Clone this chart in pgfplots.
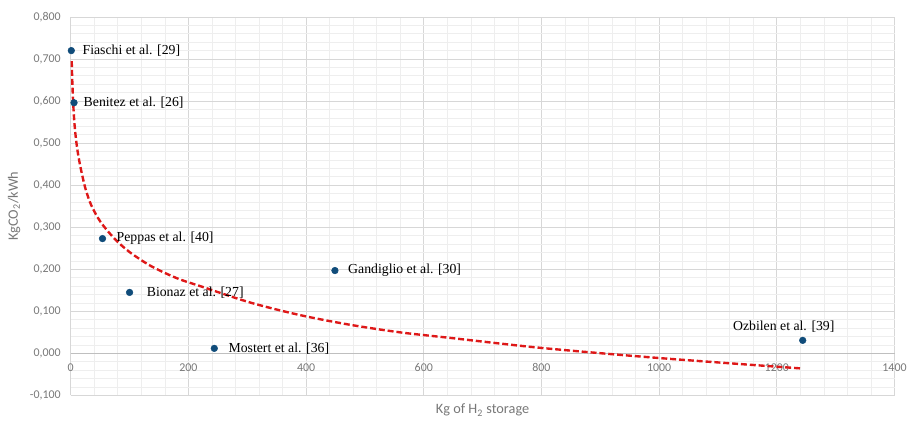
\documentclass[border=0pt]{standalone}
\usepackage{pgfplots}
\pgfplotsset{compat=1.18}
\usepackage{fontspec}
\setmainfont{Carlito}
\newfontfamily\serif{Liberation Serif}
\definecolor{ptblue}{RGB}{16,76,122}
\definecolor{trendred}{RGB}{222,24,24}
\definecolor{gridmaj}{RGB}{215,215,215}
\definecolor{gridmin}{RGB}{238,238,238}
\definecolor{ticktext}{RGB}{120,120,120}
\begin{document}
\begin{tikzpicture}
\begin{axis}[
  scale only axis,
  width=622pt, height=285.8pt,
  xmin=0, xmax=1400, ymin=-0.1, ymax=0.8,
  xtick={0,200,...,1400},
  ytick={-0.1,0,0.1,0.2,0.3,0.4,0.5,0.6,0.7,0.8},
  minor x tick num=4, minor y tick num=4,
  grid=both,
  major grid style={gridmaj, line width=0.6pt},
  minor grid style={gridmin, line width=0.5pt},
  axis line style={draw=none},
  tick style={draw=none},
  /pgf/number format/assume math mode=true,
  ticklabel style={font=\fontsize{9}{10}\selectfont, text=ticktext},
  xticklabel style={/tikz/yshift=27.5pt, /pgf/number format/1000 sep={}, /pgf/number format/fixed},
  yticklabel style={/tikz/xshift=-4pt, /pgf/number format/fixed, /pgf/number format/fixed zerofill, /pgf/number format/precision=3, /pgf/number format/use comma},
  xlabel={Kg of H\textsubscript{2} storage},
  ylabel={KgCO\textsubscript{2}/kWh},
  label style={font=\fontsize{10.8}{12}\selectfont, text=ticktext},
  xlabel style={at={(axis description cs:0.5,0)}, anchor=north, yshift=-3pt},
  ylabel style={at={(axis description cs:-0.082,0.5)}, anchor=north},
  clip=false,
]
% darker zero line
\addplot[draw={rgb,255:red,191;green,191;blue,191}, line width=0.8pt, forget plot] coordinates {(0,0) (1400,0)};
% logarithmic trend line
\addplot[trendred, line width=1.8pt, dash pattern=on 4.5pt off 2.2pt, smooth] coordinates {
(1.7,0.695) (2.5,0.655) (4,0.600) (6,0.553) (8.5,0.515) (12,0.478) (17,0.440) (25,0.392)
(35,0.352) (51,0.312) (75,0.272) (100,0.241) (136,0.208) (180,0.179) (220,0.160)
(305,0.121) (390,0.091) (475,0.068) (560,0.050) (644,0.037) (800,0.013) (1000,-0.011)
(1244,-0.036)};
% data points
\addplot[only marks, mark=*, mark size=2.5pt, ptblue] coordinates {
(1,0.720) (5.6,0.596) (54,0.273) (100,0.145) (244,0.012) (449,0.197) (1244,0.031)};
\begin{scope}[every node/.style={font=\serif\fontsize{10.4}{12}\selectfont, text=black}]
\node[anchor=west, xshift=5pt] at (axis cs:1,0.720) {Fiaschi et al. [29]};
\node[anchor=west, xshift=3.8pt] at (axis cs:5.6,0.596) {Benitez et al. [26]};
\node[anchor=west, xshift=7.2pt] at (axis cs:54,0.273) {Peppas et al. [40]};
\node[anchor=west, xshift=9.5pt] at (axis cs:100,0.145) {Bionaz et al. [27]};
\node[anchor=west, xshift=7.2pt] at (axis cs:244,0.012) {Mostert et al. [36]};
\node[anchor=west, xshift=6.5pt] at (axis cs:449,0.197) {Gandiglio et al. [30]};
\node[xshift=-14.3pt, yshift=10.5pt] at (axis cs:1244,0.031) {Ozbilen et al. [39]};
\end{scope}
% page margins as in the reference
\path (rel axis cs:0,0) ++(-53.4pt,-21.8pt) coordinate (bbsw);
\path (rel axis cs:1,1) ++(9.8pt,12.8pt) coordinate (bbne);
\end{axis}
\useasboundingbox (bbsw) rectangle (bbne);
\end{tikzpicture}
\end{document}
